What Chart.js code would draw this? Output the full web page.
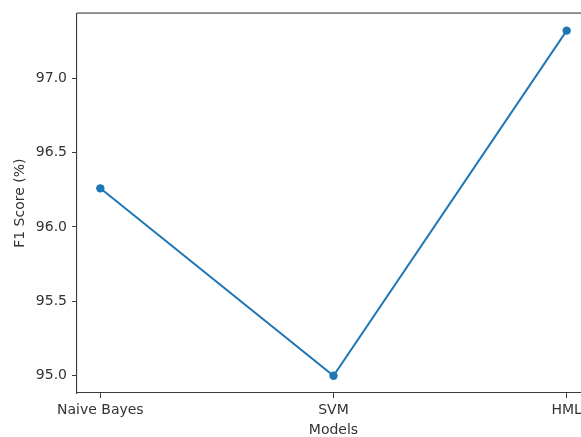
<!DOCTYPE html>
<html>
<head>
<meta charset="utf-8">
<script src="https://cdn.jsdelivr.net/npm/chart.js@4.4.1/dist/chart.umd.min.js"></script>
<style>
  html, body { margin: 0; padding: 0; background: #fff; overflow: hidden; }
  #wrap { width: 581px; height: 437px; overflow: hidden; }
</style>
</head>
<body>
<div id="wrap"><canvas id="f1Chart" width="600" height="437"></canvas></div>
<script>
let models = ['Naive Bayes', 'SVM', 'HML'];
let f1Scores = [96.26, 95.0, 97.32];
let yTicks = [95.0, 95.5, 96.0, 96.5, 97.0];

let axisColor = '#3a3a3a';
let textColor = '#333333';
let font = { family : 'DejaVu Sans', size : 14 };

// top spine; the right spine falls outside the cropped picture
let framePlugin = {
    id : 'frame',
    afterDraw : function(chart) {
        let a = chart.chartArea;
        let ctx = chart.ctx;
        ctx.save();
        ctx.fillStyle = axisColor;
        ctx.fillRect(a.left, Math.round(a.top) - 0.5, a.right - a.left, 1.1);
        ctx.restore();
    }
};

let chartContainer = document.getElementById('f1Chart').getContext('2d');

let config = {
    type : 'line',
    data : {
        datasets : [{
            data : f1Scores.map((v, i) => ({ x : i, y : v })),
            borderColor : '#1f77b4',
            backgroundColor : '#1f77b4',
            borderWidth : 2,
            pointRadius : 4.2,
            pointBorderWidth : 0,
            tension : 0
        }]
    },
    options : {
        responsive : false,
        animation : false,
        layout : { padding : { top : 10.6, left : 0, right : 10, bottom : 0 } },
        plugins : { legend : { display : false }, tooltip : { enabled : false } },
        scales : {
            x : {
                type : 'linear', min : -0.1, max : 2.1,
                afterBuildTicks : function(scale) { scale.ticks = models.map((m, i) => ({ value : i })); },
                afterFit : function(scale) { scale.height = 44; },
                grid : { drawOnChartArea : false, tickLength : 5, color : axisColor },
                border : { display : true, color : axisColor, width : 1.1 },
                ticks : { padding : 4, color : textColor, font : font, maxRotation : 0, autoSkip : false,
                    callback : function(v) { return models[v]; } },
                title : { display : true, text : 'Models', color : textColor, font : { family : 'DejaVu Sans', size : 14, lineHeight : 1 }, padding : 0 }
            },
            y : {
                min : 94.884, max : 97.436,
                afterBuildTicks : function(scale) { scale.ticks = yTicks.map(v => ({ value : v })); },
                afterFit : function(scale) { scale.width = 77; },
                grid : { drawOnChartArea : false, tickLength : 5, color : axisColor },
                border : { display : true, color : axisColor, width : 1.1 },
                ticks : { padding : 5, color : textColor, font : font, callback : function(v) { return v.toFixed(1); } },
                title : { display : true, text : 'F1 Score (%)', color : textColor, font : { family : 'DejaVu Sans', size : 14, lineHeight : 1 }, padding : { top : 13, bottom : 0 } }
            }
        }
    },
    plugins : [framePlugin]
};

let chart = new Chart(chartContainer, config);
</script>
</body>
</html>
